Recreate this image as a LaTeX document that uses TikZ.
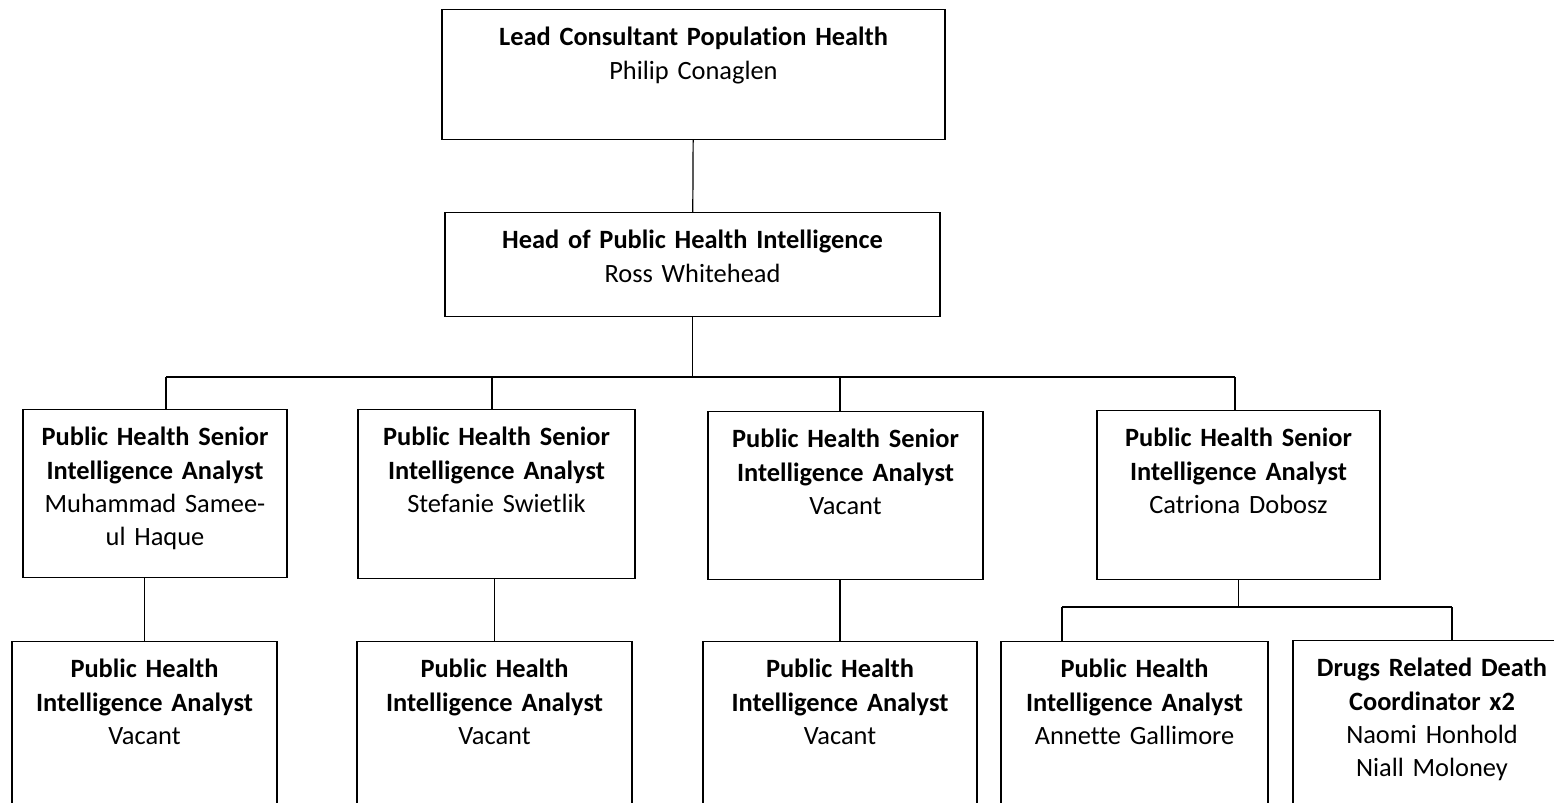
\documentclass[tikz,border=0pt]{standalone}
\usepackage{fontspec}
\setmainfont{Carlito}[Ligatures=NoCommon]
\tikzset{
  post/.style={draw, line width=0.6pt, align=center, anchor=north,
    inner xsep=4pt, inner ysep=8.5pt, text height=9.5pt, text width=#1,
    font=\fontsize{13.2}{16.7}\selectfont},
  link/.style={line width=0.6pt}
}
\begin{document}
\begin{tikzpicture}[x=0.5pt,y=-0.5pt]
\useasboundingbox (0,0) rectangle (1554,803);
\clip (0,0) rectangle (1554,803);

\node[post=243.5pt, text depth=38.5pt] (lead) at (693.5,9)
{\textbf{Lead Consultant Population Health}\\Philip Conaglen};

\node[post=239.5pt, text depth=25.5pt] (head) at (692.5,212)
{\textbf{Head of Public Health Intelligence}\\Ross Whitehead};

% senior analysts
\node[post=124pt, text depth=57.5pt] (s1) at (155,409)
{\textbf{Public Health Senior}\\\textbf{Intelligence Analyst}\\Muhammad Samee-\\ul Haque};
\node[post=130.5pt, text depth=58pt] (s2) at (496.5,409)
{\textbf{Public Health Senior}\\\textbf{Intelligence Analyst}\\Stefanie Swietlik};
\node[post=129.5pt, text depth=57.5pt] (s3) at (845.5,411)
{\textbf{Public Health Senior}\\\textbf{Intelligence Analyst}\\Vacant};
\node[post=133.5pt, text depth=58pt] (s4) at (1238.5,410)
{\textbf{Public Health Senior}\\\textbf{Intelligence Analyst}\\Catriona Dobosz};

% analysts
\node[post=124.5pt, text depth=60pt] (a1) at (144.5,641)
{\textbf{Public Health}\\\textbf{Intelligence Analyst}\\Vacant};
\node[post=129.5pt, text depth=60pt] (a2) at (494.5,641)
{\textbf{Public Health}\\\textbf{Intelligence Analyst}\\Vacant};
\node[post=129pt, text depth=60pt] (a3) at (840,641)
{\textbf{Public Health}\\\textbf{Intelligence Analyst}\\Vacant};
\node[post=125.5pt, text depth=60pt] (a4) at (1134.5,641)
{\textbf{Public Health}\\\textbf{Intelligence Analyst}\\Annette Gallimore};
\node[post=131pt, text depth=60pt] (a5) at (1432,640)
{\textbf{Drugs Related Death}\\\textbf{Coordinator x2}\\Naomi Honhold\\Niall Moloney};

\coordinate (b1) at (166,377);
\coordinate (b2) at (492,377);
\coordinate (b3) at (840,377);
\coordinate (b4) at (1235,377);
\coordinate (d4) at (1062,607);
\coordinate (d5) at (1452,607);

\draw[link] (lead) -- (head);
\draw[link] (head.south) -- (head.south |- b1);
\draw[link] (b1) -- (b4);
\foreach \b/\s in {b1/s1, b2/s2, b3/s3, b4/s4}
  \draw[link] (\b) -- (\b |- \s.north);
\foreach \s/\a in {s1/a1, s2/a2, s3/a3}
  \draw[link] (\a.north) -- (\a.north |- \s.south);
\draw[link] (s4.south) -- (s4.south |- d4);
\draw[link] (d4) -- (d5);
\draw[link] (d4) -- (d4 |- a4.north);
\draw[link] (d5) -- (d5 |- a5.north);
\end{tikzpicture}
\end{document}
